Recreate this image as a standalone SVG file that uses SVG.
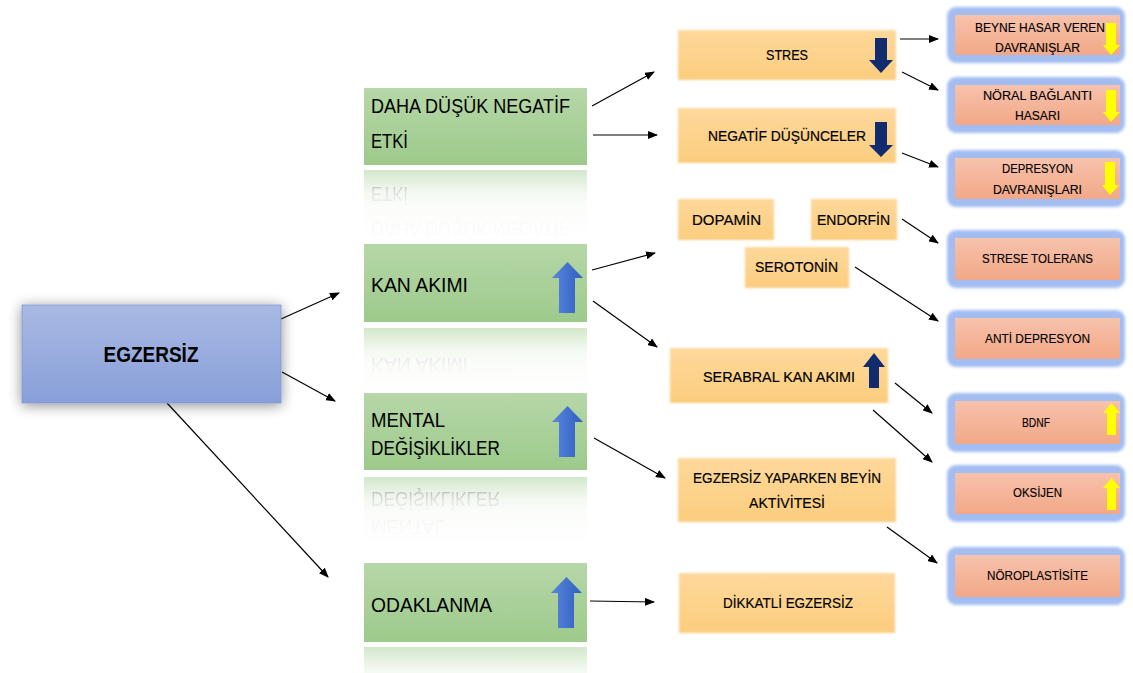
<svg xmlns="http://www.w3.org/2000/svg" width="1133" height="673" viewBox="0 0 1133 673">
<defs>
<style>
.t{font-family:"Liberation Sans",Arial,sans-serif;fill:#000}
.g{font-size:19.5px}
.o{font-size:15px;text-anchor:middle;stroke:#000;stroke-width:0.2}
.r{font-size:13.5px;text-anchor:middle;stroke:#000;stroke-width:0.15}
.c{fill:none;stroke:#000;stroke-width:1.2;marker-end:url(#ah)}
.gb{fill:url(#gGreen)}
.ob{fill:url(#gOrange);filter:url(#soft)}
.bo{fill:#a3bdf2;filter:url(#glow)}
.bi{fill:url(#gSalmon)}
.ba{fill:url(#gBlueArrow)}
.na{fill:#102c6e}
.ya{fill:#ffff00}
</style>
<linearGradient id="gGreen" x1="0" y1="0" x2="0" y2="1"><stop offset="0" stop-color="#b6d7a8"/><stop offset="1" stop-color="#9dca8b"/></linearGradient>
<linearGradient id="gBlue" x1="0" y1="0" x2="0" y2="1"><stop offset="0" stop-color="#a9b9e3"/><stop offset="1" stop-color="#889fd9"/></linearGradient>
<linearGradient id="gOrange" x1="0" y1="0" x2="0" y2="1"><stop offset="0" stop-color="#fed89b"/><stop offset="1" stop-color="#fccd7e"/></linearGradient>
<linearGradient id="gSalmon" x1="0" y1="0" x2="0" y2="1"><stop offset="0" stop-color="#f7c2ac"/><stop offset="1" stop-color="#f2a887"/></linearGradient>
<linearGradient id="gBlueArrow" x1="0" y1="0" x2="1" y2="0"><stop offset="0" stop-color="#5a86da"/><stop offset="1" stop-color="#2f5ec2"/></linearGradient>
<linearGradient id="gFade" x1="0" y1="0" x2="0" y2="1"><stop offset="0" stop-color="#fff" stop-opacity="0.45"/><stop offset="0.3" stop-color="#fff" stop-opacity="0.12"/><stop offset="0.5" stop-color="#fff" stop-opacity="0.04"/><stop offset="1" stop-color="#fff" stop-opacity="0"/></linearGradient>
<mask id="fade" maskContentUnits="objectBoundingBox"><rect x="0" y="0" width="1" height="1" fill="url(#gFade)"/></mask>
<filter id="shadow" x="-20%" y="-30%" width="140%" height="160%"><feGaussianBlur in="SourceAlpha" stdDeviation="7"/><feOffset dy="2"/><feComponentTransfer><feFuncA type="linear" slope="0.45"/></feComponentTransfer><feMerge><feMergeNode/><feMergeNode in="SourceGraphic"/></feMerge></filter>
<filter id="soft" x="-5%" y="-10%" width="110%" height="120%"><feGaussianBlur stdDeviation="1.3"/></filter>
<filter id="glow" x="-5%" y="-15%" width="110%" height="130%"><feGaussianBlur stdDeviation="1.6"/></filter>
<marker id="ah" markerWidth="10" markerHeight="8" refX="9" refY="4" orient="auto" markerUnits="userSpaceOnUse"><path d="M0,0 L10,4 L0,8 z" fill="#000"/></marker>
</defs>
<rect width="1133" height="673" fill="#fff"/>

<g id="connectors">
<line class="c" x1="281" y1="319" x2="339" y2="293"/>
<line class="c" x1="282" y1="372" x2="335" y2="401"/>
<line class="c" x1="167" y1="403" x2="328" y2="577"/>
<line class="c" x1="592" y1="106" x2="654" y2="72"/>
<line class="c" x1="593" y1="135" x2="657" y2="135"/>
<line class="c" x1="592" y1="270" x2="655" y2="253"/>
<line class="c" x1="593" y1="301" x2="657" y2="347"/>
<line class="c" x1="594" y1="438" x2="665" y2="478"/>
<line class="c" x1="590" y1="601" x2="654" y2="602"/>
<line class="c" x1="900" y1="39" x2="938" y2="39"/>
<line class="c" x1="902" y1="72" x2="938" y2="90"/>
<line class="c" x1="902" y1="153" x2="938" y2="167"/>
<line class="c" x1="902" y1="219" x2="938" y2="243"/>
<line class="c" x1="855" y1="267" x2="938" y2="321"/>
<line class="c" x1="895" y1="383" x2="932" y2="413"/>
<line class="c" x1="873" y1="410" x2="932" y2="462"/>
<line class="c" x1="887" y1="527" x2="937" y2="563"/>
</g>

<g id="egzersiz">
<rect x="22" y="305" width="259" height="98" fill="url(#gBlue)" stroke="#7f96d0" stroke-width="0.8" filter="url(#shadow)"/>
<text class="t" x="151" y="362" font-size="22" font-weight="bold" text-anchor="middle" textLength="95" lengthAdjust="spacingAndGlyphs">EGZERSİZ</text>
</g>

<g id="daha-dusuk">
<g mask="url(#fade)"><g transform="translate(0,335) scale(1,-1)">
<rect class="gb" x="364" y="88" width="223" height="77"/>
<text class="t g" x="371" y="113" textLength="199" lengthAdjust="spacingAndGlyphs" fill="#ccc">DAHA DÜŞÜK NEGATİF</text>
<text class="t g" x="371" y="148" textLength="37" lengthAdjust="spacingAndGlyphs" fill="#f4f4f4">ETKİ</text>
</g></g>
<rect class="gb" x="364" y="88" width="223" height="77"/>
<text class="t g" x="371" y="113" textLength="199" lengthAdjust="spacingAndGlyphs">DAHA DÜŞÜK NEGATİF</text>
<text class="t g" x="371" y="148" textLength="37" lengthAdjust="spacingAndGlyphs">ETKİ</text>
</g>

<g id="kan-akimi">
<g mask="url(#fade)"><g transform="translate(0,650) scale(1,-1)">
<rect class="gb" x="364" y="244" width="223" height="78"/>
<text class="t g" x="371" y="292" textLength="97" lengthAdjust="spacingAndGlyphs" fill="#ddd">KAN AKIMI</text>
</g></g>
<rect class="gb" x="364" y="244" width="223" height="78"/>
<text class="t g" x="371" y="292" textLength="97" lengthAdjust="spacingAndGlyphs">KAN AKIMI</text>
<path class="ba" d="M567.5,262 L583,278 L575,278 L575,313 L559,313 L559,278 L552,278 z"/>
</g>

<g id="mental">
<g mask="url(#fade)"><g transform="translate(0,947) scale(1,-1)">
<rect class="gb" x="364" y="393" width="223" height="77"/>
<text class="t g" x="371" y="427" textLength="74" lengthAdjust="spacingAndGlyphs" fill="#ddd">MENTAL</text>
<text class="t g" x="371" y="455" textLength="129" lengthAdjust="spacingAndGlyphs" fill="#f4f4f4">DEĞİŞİKLİKLER</text>
</g></g>
<rect class="gb" x="364" y="393" width="223" height="77"/>
<text class="t g" x="371" y="427" textLength="74" lengthAdjust="spacingAndGlyphs">MENTAL</text>
<text class="t g" x="371" y="455" textLength="129" lengthAdjust="spacingAndGlyphs">DEĞİŞİKLİKLER</text>
<path class="ba" d="M567.5,406 L583,422 L575,422 L575,457 L559,457 L559,422 L552,422 z"/>
</g>

<g id="odaklanma">
<g mask="url(#fade)"><g transform="translate(0,1289) scale(1,-1)">
<rect class="gb" x="364" y="563" width="223" height="79"/>
</g></g>
<rect class="gb" x="364" y="563" width="223" height="79"/>
<text class="t g" x="371" y="612" textLength="121" lengthAdjust="spacingAndGlyphs">ODAKLANMA</text>
<path class="ba" d="M566.5,577 L582,593 L574,593 L574,628 L558,628 L558,593 L551,593 z"/>
</g>

<g id="stres">
<rect class="ob" x="678" y="30" width="218" height="50"/>
<text class="t o" x="787" y="60" textLength="42" lengthAdjust="spacingAndGlyphs">STRES</text>
<path class="na" d="M875,38 L887,38 L887,60 L893,60 L881,73 L869,60 L875,60 z"/>
</g>

<g id="negatif">
<rect class="ob" x="678" y="108" width="218" height="55"/>
<text class="t o" x="787" y="141" textLength="158" lengthAdjust="spacingAndGlyphs">NEGATİF DÜŞÜNCELER</text>
<path class="na" d="M875,122 L887,122 L887,145 L893,145 L881,157 L869,145 L875,145 z"/>
</g>

<g id="dopamin">
<rect class="ob" x="678" y="199" width="96" height="41"/>
<text class="t o" x="726.5" y="225" textLength="69" lengthAdjust="spacingAndGlyphs">DOPAMİN</text>
</g>

<g id="endorfin">
<rect class="ob" x="811" y="199" width="86" height="41"/>
<text class="t o" x="853.5" y="225" textLength="73" lengthAdjust="spacingAndGlyphs">ENDORFİN</text>
</g>

<g id="serotonin">
<rect class="ob" x="745" y="247" width="104" height="41"/>
<text class="t o" x="796.5" y="272" textLength="83" lengthAdjust="spacingAndGlyphs">SEROTONİN</text>
</g>

<g id="serabral">
<rect class="ob" x="670" y="348" width="218" height="55"/>
<text class="t o" x="779" y="382" textLength="152" lengthAdjust="spacingAndGlyphs">SERABRAL KAN AKIMI</text>
<path class="na" d="M874,353 L885,367 L879,367 L879,388 L869,388 L869,367 L863,367 z"/>
</g>

<g id="beyin-aktivitesi">
<rect class="ob" x="678" y="458" width="218" height="64"/>
<text class="t o" x="787" y="483" textLength="188" lengthAdjust="spacingAndGlyphs">EGZERSİZ YAPARKEN BEYİN</text>
<text class="t o" x="787" y="508" textLength="76" lengthAdjust="spacingAndGlyphs">AKTİVİTESİ</text>
</g>

<g id="dikkatli">
<rect class="ob" x="679" y="573" width="216" height="60"/>
<text class="t o" x="788" y="608" textLength="130" lengthAdjust="spacingAndGlyphs">DİKKATLİ EGZERSİZ</text>
</g>

<g id="beyne-hasar">
<rect class="bo" x="947" y="7" width="178" height="56" rx="9"/>
<rect class="bi" x="955" y="15" width="165" height="40"/>
<text class="t r" x="1040" y="32" textLength="130" lengthAdjust="spacingAndGlyphs">BEYNE HASAR VEREN</text>
<text class="t r" x="1037.5" y="52" textLength="85" lengthAdjust="spacingAndGlyphs">DAVRANIŞLAR</text>
<path class="ya" d="M1106,23 L1116,23 L1116,45 L1120,45 L1111,55 L1103,45 L1106,45 z"/>
</g>

<g id="noral">
<rect class="bo" x="947" y="77" width="178" height="56" rx="9"/>
<rect class="bi" x="955" y="85" width="165" height="40"/>
<text class="t r" x="1037.5" y="100" textLength="109" lengthAdjust="spacingAndGlyphs">NÖRAL BAĞLANTI</text>
<text class="t r" x="1037.5" y="120" textLength="45" lengthAdjust="spacingAndGlyphs">HASARI</text>
<path class="ya" d="M1106,90 L1116,90 L1116,112 L1120,112 L1111,122 L1103,112 L1106,112 z"/>
</g>

<g id="depresyon">
<rect class="bo" x="947" y="150" width="178" height="57" rx="9"/>
<rect class="bi" x="955" y="158" width="165" height="41"/>
<text class="t r" x="1037.5" y="173" textLength="71" lengthAdjust="spacingAndGlyphs">DEPRESYON</text>
<text class="t r" x="1037.5" y="194" textLength="89" lengthAdjust="spacingAndGlyphs">DAVRANIŞLARI</text>
<path class="ya" d="M1105,162 L1115,162 L1115,185 L1119,185 L1110,195 L1102,185 L1105,185 z"/>
</g>

<g id="strese-tolerans">
<rect class="bo" x="947" y="230" width="178" height="58" rx="9"/>
<rect class="bi" x="955" y="238" width="165" height="42"/>
<text class="t r" x="1037.5" y="263" textLength="111" lengthAdjust="spacingAndGlyphs">STRESE TOLERANS</text>
</g>

<g id="anti-depresyon">
<rect class="bo" x="947" y="310" width="178" height="57" rx="9"/>
<rect class="bi" x="955" y="318" width="165" height="41"/>
<text class="t r" x="1037.5" y="343" textLength="105" lengthAdjust="spacingAndGlyphs">ANTİ DEPRESYON</text>
</g>

<g id="bdnf">
<rect class="bo" x="947" y="393" width="178" height="59" rx="9"/>
<rect class="bi" x="955" y="401" width="165" height="43"/>
<text class="t r" x="1036" y="427" textLength="28" lengthAdjust="spacingAndGlyphs">BDNF</text>
<path class="ya" d="M1111.5,403 L1120,413 L1116,413 L1116,435 L1107,435 L1107,413 L1103,413 z"/>
</g>

<g id="oksijen">
<rect class="bo" x="947" y="465" width="178" height="57" rx="9"/>
<rect class="bi" x="955" y="473" width="165" height="41"/>
<text class="t r" x="1037.5" y="497" textLength="49" lengthAdjust="spacingAndGlyphs">OKSİJEN</text>
<path class="ya" d="M1111.5,478 L1120,488 L1116,488 L1116,510 L1107,510 L1107,488 L1103,488 z"/>
</g>

<g id="noroplastisite">
<rect class="bo" x="947" y="547" width="178" height="58" rx="9"/>
<rect class="bi" x="955" y="555" width="165" height="42"/>
<text class="t r" x="1037.5" y="580" textLength="101" lengthAdjust="spacingAndGlyphs">NÖROPLASTİSİTE</text>
</g>
</svg>
